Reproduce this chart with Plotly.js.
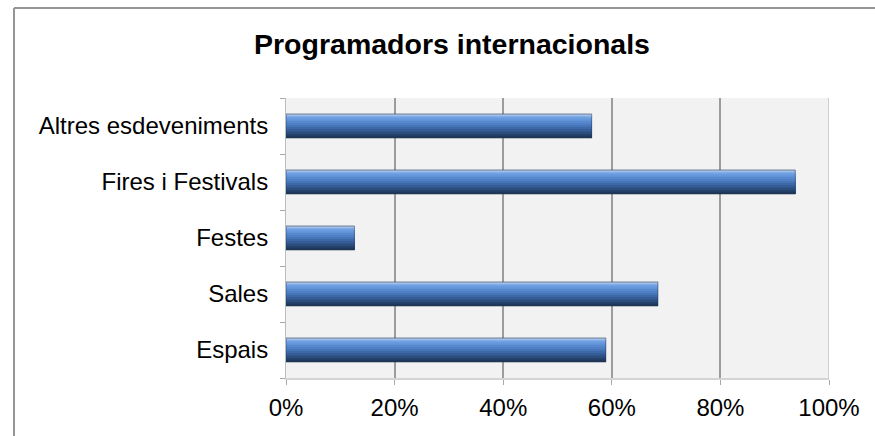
<!DOCTYPE html>
<html>
<head>
<meta charset="utf-8">
<script src="https://cdn.plot.ly/plotly-3.0.1.min.js"></script>
<style>html,body{margin:0;padding:0;background:#fff;overflow:hidden;}#chart{width:875px;height:436px;}</style>
</head>
<body>
<div id="chart"></div>
<script>
// Data (bottom to top as drawn)
const categories = ["Espais", "Sales", "Festes", "Fires i Festivals", "Altres esdeveniments"];
const values = [0.589, 0.685, 0.126, 0.938, 0.563];
const xTickVals = [0, 0.2, 0.4, 0.6, 0.8, 1.0];
const xTickText = ["0%", "20%", "40%", "60%", "80%", "100%"];
const chartTitle = "Programadors internacionals";

// Style: vertical gradient bands (top to bottom)
const bandColors = ["#a3c0e8", "#74a3e3", "#6497dc", "#5a8bd2", "#5080c6", "#4675b8", "#3d69a8", "#355c95", "#2d4f80", "#25426b", "#1f3859"];
const barWidth = 0.43;
const bw = barWidth / bandColors.length;

const traces = [];
bandColors.forEach(function (c, k) {
  traces.push({
    type: "bar", orientation: "h",
    y: categories, x: values,
    width: barWidth - k * bw, offset: -barWidth / 2,
    marker: { color: c, line: { width: 0 } },
    hoverinfo: "skip", showlegend: false
  });
});
// outline
traces.push({
  type: "bar", orientation: "h",
  y: categories, x: values,
  width: barWidth, offset: -barWidth / 2,
  marker: { color: "rgba(0,0,0,0)", line: { width: 1, color: "rgba(30,50,85,0.5)" } },
  hoverinfo: "skip", showlegend: false
});

const layout = {
  width: 875, height: 436,
  margin: { l: 286, r: 46, t: 98, b: 58, pad: 0 },
  paper_bgcolor: "#ffffff",
  plot_bgcolor: "#f2f2f2",
  barmode: "overlay",
  showlegend: false,
  font: { family: "Liberation Sans, Arial, sans-serif", color: "#000" },
  title: {
    text: chartTitle,
    font: { family: "Liberation Sans, Arial, sans-serif", size: 28.5, weight: 700, color: "#000" },
    xref: "container", yref: "container",
    x: 452 / 875, xanchor: "center",
    y: 1 - 44 / 436, yanchor: "middle"
  },
  xaxis: {
    range: [0, 1], tickvals: xTickVals, ticktext: xTickText,
    showgrid: true, gridcolor: "#9c9c9c", gridwidth: 2,
    zeroline: false,
    showline: true, linecolor: "#d4d4d4", linewidth: 2,
    ticks: "outside", ticklen: 5, tickcolor: "#a8a8a8", tickwidth: 1,
    ticklabelstandoff: 2,
    tickfont: { size: 24, color: "#000" },
    fixedrange: true
  },
  yaxis: {
    type: "category", range: [-0.5, 4.5],
    tickson: "boundaries",
    showgrid: false, zeroline: false,
    showline: true, linecolor: "#bdbdbd", linewidth: 1,
    ticks: "outside", ticklen: 5, tickcolor: "#a8a8a8", tickwidth: 1,
    ticklabelstandoff: 12,
    tickfont: { size: 24, color: "#000" },
    fixedrange: true
  },
  shapes: [
    { type: "line", xref: "x", yref: "paper", x0: 1, x1: 1, y0: 0, y1: 1,
      line: { color: "#cfcfcf", width: 2 }, layer: "above" },
    { type: "line", xref: "paper", yref: "paper",
      x0: (14 - 286) / 543, x1: (875 - 286) / 543, y0: (378 - 8) / 280, y1: (378 - 8) / 280,
      line: { color: "#959595", width: 2 }, layer: "below" },
    { type: "line", xref: "paper", yref: "paper",
      x0: (14 - 286) / 543, x1: (14 - 286) / 543, y0: -1, y1: (378 - 8) / 280,
      line: { color: "#959595", width: 2 }, layer: "below" }
  ]
};

Plotly.newPlot("chart", traces, layout, { displayModeBar: false, staticPlot: true });
</script>
</body>
</html>
